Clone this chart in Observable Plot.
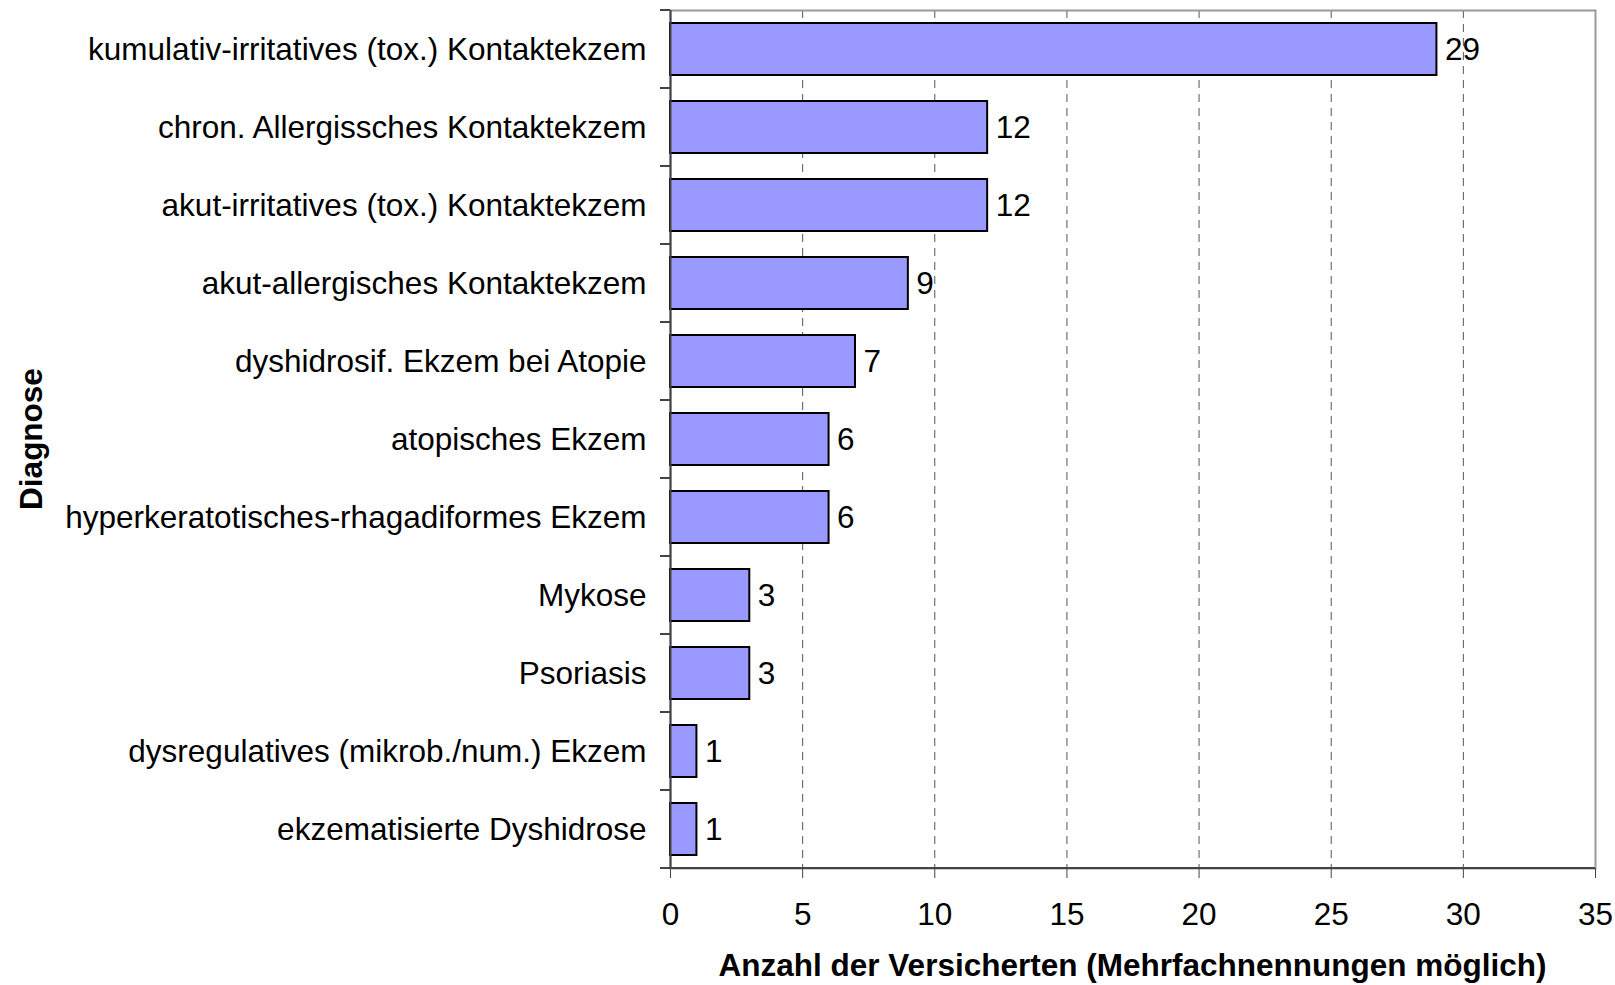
<!DOCTYPE html>
<html>
<head>
<meta charset="utf-8">
<script src="https://cdn.jsdelivr.net/npm/d3@7"></script>
<script src="https://cdn.jsdelivr.net/npm/@observablehq/plot@0.6"></script>
<style>
  html, body { margin: 0; padding: 0; background: #fff; }
  #chart { position: relative; width: 1615px; height: 985px; }
  #chart svg { font-family: "Liberation Sans", Arial, sans-serif; }
</style>
</head>
<body>
<div id="chart"></div>
<script>
const categories = [
  "kumulativ-irritatives (tox.) Kontaktekzem",
  "chron. Allergissches Kontaktekzem",
  "akut-irritatives (tox.) Kontaktekzem",
  "akut-allergisches Kontaktekzem",
  "dyshidrosif. Ekzem bei Atopie",
  "atopisches Ekzem",
  "hyperkeratotisches-rhagadiformes Ekzem",
  "Mykose",
  "Psoriasis",
  "dysregulatives (mikrob./num.) Ekzem",
  "ekzematisierte Dyshidrose"
];
const counts = [29, 12, 12, 9, 7, 6, 6, 3, 3, 1, 1];
const xTicks = [0, 5, 10, 15, 20, 25, 30, 35];
const xLabel = "Anzahl der Versicherten (Mehrfachnennungen möglich)";
const yLabel = "Diagnose";

const data = categories.map((c, i) => ({cat: c, n: counts[i]}));
const FS = 31.5;

const plot = Plot.plot({
  width: 1615,
  height: 985,
  marginLeft: 670,
  marginRight: 20,
  marginTop: 10,
  marginBottom: 117,
  style: {fontFamily: "'Liberation Sans', Arial, sans-serif", fontSize: FS + "px", color: "#000", background: "#fff"},
  x: {domain: [0, 35], ticks: xTicks},
  y: {domain: categories, paddingInner: 0.33, paddingOuter: 0.165, align: 0.5},
  marks: [
    Plot.ruleX(xTicks.filter(t => t > 0 && t < 35), {stroke: "#555", strokeWidth: 1, strokeDasharray: "8,6"}),
    Plot.frame({stroke: "#999", strokeWidth: 2}),
    Plot.barX(data, {x: "n", y: "cat", fill: "#9999ff", stroke: "#000", strokeWidth: 2}),
    Plot.text(data, {x: "n", y: "cat", text: d => String(d.n), textAnchor: "start", dx: 8, fontSize: FS, fill: "#000"}),
    Plot.ruleX([0], {stroke: "#444", strokeWidth: 2}),
    Plot.axisX({ticks: xTicks, tickSize: 10, tickPadding: 24, tickFormat: d => String(d), fontSize: FS, label: null, stroke: "#444"}),
    Plot.axisY({tickSize: 0, tickPadding: 24, fontSize: FS, label: null})
  ]
});

document.getElementById("chart").appendChild(plot);

// extra decorations using the plot's own scales
const svgSel = d3.select(plot);
const ys = plot.scale("y");
const xs = plot.scale("x");
const xLeft = xs.apply(0);
const xRight = xs.apply(35);
const gap = (ys.step - ys.bandwidth) / 2;
const boundaries = categories.map(c => ys.apply(c) - gap);
const yBottom = ys.apply(categories[categories.length - 1]) + ys.bandwidth + gap;
boundaries.push(yBottom);
const deco = svgSel.append("g");
deco.selectAll("line.yt").data(boundaries).join("line")
  .attr("x1", xLeft - 10).attr("x2", xLeft)
  .attr("y1", d => d).attr("y2", d => d)
  .attr("stroke", "#444").attr("stroke-width", 2);
deco.append("line")
  .attr("x1", xLeft - 10).attr("x2", xRight)
  .attr("y1", yBottom).attr("y2", yBottom)
  .attr("stroke", "#444").attr("stroke-width", 2);
deco.append("text")
  .attr("x", (xLeft + xRight) / 2).attr("y", yBottom + 108)
  .attr("text-anchor", "middle")
  .attr("font-weight", "bold").attr("font-size", FS)
  .text(xLabel);
const yTop = boundaries[0];
deco.append("text")
  .attr("transform", `translate(${31},${(yTop + yBottom) / 2}) rotate(-90)`)
  .attr("text-anchor", "middle").attr("dy", "0.35em")
  .attr("font-weight", "bold").attr("font-size", FS)
  .text(yLabel);
</script>
</body>
</html>
